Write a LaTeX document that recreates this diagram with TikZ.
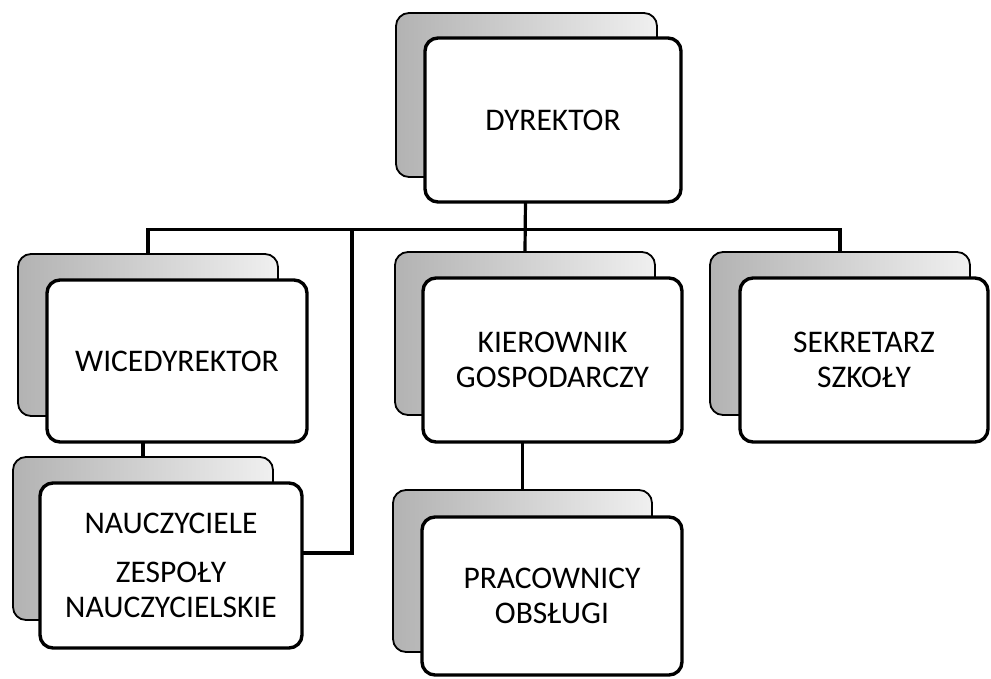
\documentclass[tikz,border=0pt]{standalone}
\usepackage{fontspec}
\setmainfont{Carlito}
\usetikzlibrary{calc}
\begin{document}
\begin{tikzpicture}[x=1pt,y=-1pt,
  front/.style={draw=black,line width=3.4pt,rounded corners=13pt,fill=white,inner sep=0pt,align=center,
    font=\fontsize{31.5}{35}\selectfont},
  backbox/.style={draw=black,line width=1.8pt,rounded corners=13pt,inner sep=0pt,
    left color=gray!60,right color=gray!12},
  conn/.style={draw=black,line width=3.2pt}]
\useasboundingbox (0,0) rectangle (991,678);
% back boxes
\node[backbox,minimum width=261pt,minimum height=164pt] (dyrB) at (526.5,95) {};
\node[backbox,minimum width=260pt,minimum height=162pt] (wiceB) at (148,335) {};
\node[backbox,minimum width=260pt,minimum height=163pt] (nauB) at (143,538.5) {};
\node[backbox,minimum width=260pt,minimum height=163pt] (kierB) at (525,333.5) {};
\node[backbox,minimum width=259pt,minimum height=162pt] (pracB) at (522.5,571) {};
\node[backbox,minimum width=260pt,minimum height=163pt] (sekB) at (840,333.5) {};
% connectors
\coordinate (busL) at ($(wiceB.north)+(0,-24)$);
\coordinate (busR) at (sekB.north |- busL);
\coordinate (busV) at (352,229);
\coordinate (busE) at (352,553);
\coordinate (nauE) at (302,553);
\draw[conn] (dyrB.center) -- (kierB.north);
\draw[conn] (wiceB.north) -- (busL) -- (busR) -- (sekB.north);
\draw[conn] (busV) -- (busE) -- (nauE);
\draw[conn] (nauB.north) -- (nauB.north |- 0,442);
\draw[conn] (pracB.north) -- (pracB.north |- 0,442);
% front boxes
\node[front,minimum width=256pt,minimum height=164pt] (dyr) at (553,120) {DYREKTOR};
\node[front,minimum width=260pt,minimum height=162pt] (wice) at (177,361) {WICEDYREKTOR};
\node[front,minimum width=262pt,minimum height=165pt] (nau) at (171,565.5) {NAUCZYCIELE\\[14pt]ZESPOŁY\\NAUCZYCIELSKIE};
\node[front,minimum width=259pt,minimum height=164pt] (kier) at (552.5,360) {KIEROWNIK\\GOSPODARCZY};
\node[front,minimum width=260pt,minimum height=158pt] (prac) at (552,596) {PRACOWNICY\\OBSŁUGI};
\node[front,minimum width=248pt,minimum height=164pt] (sek) at (864,360) {SEKRETARZ\\SZKOŁY};
\end{tikzpicture}
\end{document}
